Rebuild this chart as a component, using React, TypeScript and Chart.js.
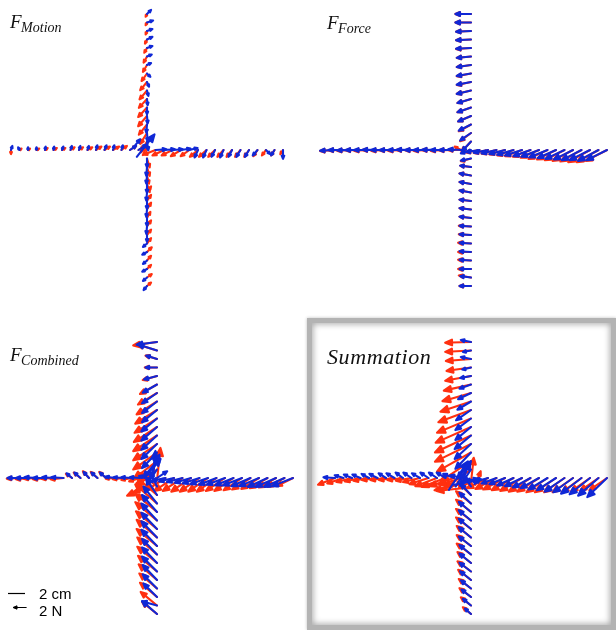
import React, { useEffect, useRef } from "react";
import { Chart, registerables } from "chart.js";
Chart.register(...registerables);

type V = [number, number];
type C = [number, number, number, number];

// distance of each sample along an arm, cm
const ARM_DIST_CM = [1, 2, 3, 4, 5, 6, 7, 8, 9, 10, 11, 12, 13, 14, 15, 16];

// ---------- F_Motion (vectors in N, ordered from centre outwards) ----------
const MOTION_TOP_RED: V[] = [[-0.9,-1.6],[-1.0,-1.6],[-1.2,-1.5],[-1.3,-1.5],[-1.3,-1.4],[-1.2,-1.3],[-1.1,-1.3],[-1.0,-1.2],[-0.8,-1.1],[-0.6,-1.0],[-0.5,-0.9],[-0.4,-0.7],[-0.3,-0.6],[-0.2,-0.5],[-0.2,-0.4],[-0.2,-0.4]];
const MOTION_TOP_BLUE: V[] = [[0.2,-1.3],[0.1,-1.2],[-0.1,-1.2],[0.1,-1.1],[0.0,-1.0],[0.1,-0.9],[0.2,-0.8],[0.3,-0.7],[0.5,-0.5],[0.6,0.3],[0.7,0.3],[0.8,0.3],[0.8,0.4],[0.8,0.3],[0.9,0.3],[0.6,0.6]];
const MOTION_LEFT_RED: V[] = [[0.9,0.6],[0.9,0.6],[0.8,0.6],[0.9,0.5],[0.8,0.5],[0.8,0.5],[0.7,0.4],[0.6,0.4],[0.6,0.4],[0.5,0.3],[0.5,0.3],[0.4,0.3],[0.4,0.2],[0.3,0.2],[0.3,0.2],[0.0,-0.6]];
const MOTION_LEFT_BLUE: V[] = [[1.2,0.8],[0.9,0.6],[0.2,0.7],[0.2,0.7],[0.3,0.7],[0.2,0.7],[0.2,0.6],[0.2,0.6],[0.2,0.6],[0.2,0.5],[0.1,0.5],[0.1,0.5],[0.0,0.4],[0.0,0.4],[-0.2,0.4],[0.2,0.6]];
const MOTION_RIGHT_RED: V[] = [[-1.8,-0.7],[-1.7,-0.8],[-1.6,-0.8],[-1.5,-0.9],[-1.3,-0.9],[-1.2,-1.0],[-1.1,-1.0],[-1.0,-1.0],[-0.9,-1.0],[-0.8,-1.0],[-0.8,-1.0],[-0.7,-1.0],[-0.6,-0.9],[-0.6,-0.8],[-0.5,-0.8],[-0.4,-0.6]];
const MOTION_RIGHT_BLUE: V[] = [[1.6,0.1],[1.6,0.1],[1.5,0.1],[1.4,0.2],[1.2,0.3],[-0.5,-1.1],[-0.5,-1.1],[-0.5,-1.0],[-0.5,-1.1],[-0.5,-1.0],[-0.6,-1.0],[-0.6,-1.0],[-0.7,-0.8],[0.6,-0.6],[-0.5,-0.8],[0.0,-1.3]];
const MOTION_BOTTOM_RED: V[] = [[0.4,-1.3],[0.4,-1.3],[0.3,-1.2],[0.4,-1.2],[0.6,0.9],[0.6,0.9],[0.6,1.0],[0.5,0.9],[0.6,0.9],[0.6,0.8],[0.6,0.8],[0.7,0.7],[0.6,0.7],[0.6,0.6],[0.7,0.5],[0.6,0.5]];
const MOTION_BOTTOM_BLUE: V[] = [[0.0,-1.3],[-0.1,-1.3],[-0.1,-1.2],[0.0,-1.3],[-0.1,-1.2],[0.0,-1.2],[-0.1,-1.1],[0.0,-1.2],[-0.1,-1.1],[0.0,-1.0],[-0.6,-0.5],[-0.7,-0.4],[-0.6,-0.5],[-0.7,-0.4],[-0.6,-0.5],[-0.5,-0.6]];
const MOTION_CENTER_RED: C[] = [[-0.5,-0.6,0.6,1.3]];
const MOTION_CENTER_BLUE: C[] = [[-1.2,-0.8,2.6,3.3],[-1.6,0.3,1.0,1.2]];

// ---------- F_Force ----------
const FORCE_TOP_RED: V[] = [[-1.4,-1.5],[-1.6,-1.2],[-1.8,-1.0],[-1.9,-0.8],[-2.0,-0.7],[-2.0,-0.6],[-2.1,-0.5],[-2.1,-0.45],[-2.1,-0.4],[-2.1,-0.3],[-2.1,-0.2],[-2.2,-0.15],[-2.2,-0.1],[-2.2,-0.1],[-2.3,0.0],[-2.3,0.0]];
const FORCE_TOP_BLUE: V[] = [[-1.3,-1.4],[-1.6,-1.1],[-1.8,-0.9],[-1.9,-0.8],[-2.0,-0.7],[-2.0,-0.6],[-2.1,-0.5],[-2.1,-0.4],[-2.1,-0.35],[-2.1,-0.3],[-2.1,-0.2],[-2.2,-0.1],[-2.2,-0.1],[-2.2,-0.1],[-2.3,0.0],[-2.3,0.0]];
const FORCE_LEFT_RED: V[] = [[-2.1,0.0],[-2.2,-0.05],[-2.2,-0.1],[-2.2,0.0],[-2.2,-0.1],[-2.2,-0.05],[-2.2,0.0],[-2.2,-0.1],[-2.2,-0.05],[-2.2,-0.1],[-2.2,0.0],[-2.2,-0.1],[-2.2,-0.05],[-2.2,-0.1],[-2.2,-0.05],[-2.2,-0.15]];
const FORCE_LEFT_BLUE: V[] = [[-2.1,0.1],[-2.2,0.0],[-2.2,0.0],[-2.2,0.05],[-2.2,0.0],[-2.2,0.0],[-2.2,0.05],[-2.2,0.0],[-2.2,0.0],[-2.2,0.0],[-2.2,0.05],[-2.2,0.0],[-2.2,0.0],[-2.2,-0.05],[-2.2,0.0],[-2.2,-0.1]];
const FORCE_RIGHT_RED: V[] = [[-2.0,-0.35],[-2.1,-0.45],[-2.2,-0.55],[-2.3,-0.65],[-2.4,-0.8],[-2.5,-0.9],[-2.6,-1.0],[-2.7,-1.15],[-2.8,-1.3],[-2.8,-1.4],[-2.9,-1.5],[-3.0,-1.6],[-3.1,-1.7],[-3.2,-1.8],[-3.2,-1.8],[-3.1,-1.6]];
const FORCE_RIGHT_BLUE: V[] = [[-2.0,-0.3],[-2.1,-0.4],[-2.2,-0.5],[-2.3,-0.6],[-2.4,-0.7],[-2.5,-0.8],[-2.5,-0.9],[-2.6,-1.0],[-2.7,-1.1],[-2.7,-1.2],[-2.8,-1.3],[-2.8,-1.4],[-2.9,-1.5],[-3.0,-1.5],[-3.0,-1.6],[-3.0,-1.5]];
const FORCE_BOTTOM_RED: V[] = [[-1.5,-0.4],[-1.6,0.2],[-1.7,0.3],[-1.7,0.3],[-1.7,0.3],[-1.7,0.2],[-1.7,0.2],[-1.7,0.2],[-1.8,0.1],[-1.8,0.1],[-1.9,0.1],[-1.9,0.0],[-1.9,0.1],[-1.9,0.0],[-1.8,0.3],[-1.7,0.0]];
const FORCE_BOTTOM_BLUE: V[] = [[-1.5,-0.3],[-1.6,0.2],[-1.7,0.3],[-1.7,0.3],[-1.7,0.3],[-1.7,0.2],[-1.7,0.2],[-1.7,0.2],[-1.7,0.1],[-1.7,0.1],[-1.7,0.1],[-1.7,0.1],[-1.7,0.1],[-1.7,0.0],[-1.6,0.2],[-1.7,0.0]];
const FORCE_CENTER_RED: C[] = [[-1.2,0.0,-0.9,0.5]];
const FORCE_CENTER_BLUE: C[] = [[0,0,-1.5,-0.5]];

// ---------- F_Combined ----------
const COMBINED_TOP_RED: V[] = [[-3.0,-2.5],[-3.4,-2.6],[-3.5,-2.5],[-3.5,-2.4],[-3.5,-2.3],[-3.4,-2.2],[-3.3,-2.1],[-3.2,-2.0],[-3.0,-1.9],[-2.8,-1.7],[-2.5,-1.4],[-2.1,-0.6],[-1.8,0.0],[-1.7,0.5],[-2.9,0.9],[-3.5,-0.5]];
const COMBINED_TOP_BLUE: V[] = [[-1.5,-2.2],[-2.0,-2.4],[-2.2,-2.3],[-2.3,-2.2],[-2.3,-2.1],[-2.3,-2.0],[-2.3,-1.9],[-2.2,-1.8],[-2.2,-1.7],[-2.2,-1.5],[-2.1,-1.2],[-1.9,-0.5],[-1.7,0.0],[-1.6,0.5],[-2.8,0.9],[-3.0,-0.4]];
const COMBINED_LEFT_RED: V[] = [[-1.8,-0.8],[-1.6,-0.5],[-1.5,-0.3],[-1.5,-0.2],[-1.3,-0.1],[-1.0,0.9],[-1.0,0.9],[-0.9,1.0],[-1.0,0.8],[-0.9,0.6],[-1.9,-0.2],[-2.0,-0.1],[-2.0,-0.2],[-2.1,-0.1],[-2.0,-0.2],[-2.1,-0.1]];
const COMBINED_LEFT_BLUE: V[] = [[-1.4,0.3],[-1.5,0.1],[-1.5,0.1],[-1.4,0.1],[-1.3,0.2],[-0.9,0.8],[-0.9,0.8],[-0.8,0.9],[-0.9,0.8],[-0.8,0.7],[-1.8,0.1],[-1.9,0.1],[-2.0,0.0],[-2.0,0.1],[-2.0,0.0],[-2.0,0.0]];
const COMBINED_RIGHT_RED: V[] = [[-2.8,-1.8],[-2.9,-1.9],[-2.9,-1.9],[-2.9,-2.0],[-2.9,-2.0],[-2.9,-2.0],[-2.9,-2.0],[-2.8,-1.9],[-2.8,-1.9],[-2.7,-1.8],[-2.7,-1.7],[-2.6,-1.6],[-2.6,-1.5],[-2.5,-1.4],[-2.5,-1.3],[-2.4,-1.2]];
const COMBINED_RIGHT_BLUE: V[] = [[-2.0,-0.4],[-2.2,-0.5],[-2.3,-0.6],[-2.4,-0.7],[-2.5,-0.8],[-2.6,-0.9],[-2.6,-1.0],[-2.7,-1.0],[-2.7,-1.1],[-2.8,-1.1],[-2.8,-1.2],[-2.9,-1.2],[-2.9,-1.3],[-3.0,-1.3],[-3.0,-1.3],[-3.1,-1.2]];
const COMBINED_BOTTOM_RED: V[] = [[-2.5,2.0],[-3.0,2.6],[-3.2,2.8],[-3.2,2.7],[-3.2,2.7],[-3.1,2.6],[-3.0,2.6],[-3.0,2.5],[-2.9,2.5],[-2.9,2.4],[-2.8,2.3],[-2.7,2.3],[-2.6,2.2],[-2.5,2.1],[-2.4,2.0],[-2.2,1.8]];
const COMBINED_BOTTOM_BLUE: V[] = [[-1.0,2.0],[-1.6,2.4],[-2.0,2.5],[-2.2,2.5],[-2.3,2.5],[-2.3,2.4],[-2.3,2.4],[-2.3,2.4],[-2.2,2.3],[-2.2,2.3],[-2.2,2.2],[-2.1,2.2],[-2.1,2.1],[-2.0,2.0],[-2.2,0.6],[-2.2,1.9]];
const COMBINED_CENTER_RED: C[] = [[0,-0.3,0.5,4.8],[-0.8,-0.8,-3.4,-1.6],[-0.5,-1.0,-2.8,-0.8]];
const COMBINED_CENTER_BLUE: C[] = [[-0.5,-0.5,0.4,4.6],[-1.0,-0.3,1.6,3.8],[-1.5,0.0,2.4,2.8],[0,0,1.5,1.0]];

// ---------- Summation ----------
const SUM_TOP_RED: V[] = [[-4.0,-2.8],[-4.5,-3.0],[-5.0,-2.8],[-5.3,-2.6],[-5.3,-2.5],[-5.2,-2.3],[-5.0,-2.1],[-4.8,-1.8],[-4.5,-1.5],[-4.2,-1.2],[-4.0,-0.9],[-3.8,-0.7],[-3.6,-0.5],[-3.7,-0.3],[-3.8,-0.2],[-3.8,-0.1]];
const SUM_TOP_BLUE: V[] = [[-1.6,-2.4],[-2.0,-2.6],[-2.3,-2.4],[-2.4,-2.2],[-2.4,-2.0],[-2.3,-1.9],[-2.3,-1.7],[-2.2,-1.5],[-2.0,-1.2],[-1.9,-0.9],[-1.7,-0.6],[-1.6,-0.3],[-1.3,-0.3],[-1.5,0.3],[-1.2,-0.2],[-1.5,0.3]];
const SUM_LEFT_RED: V[] = [[-3.5,-1.0],[-3.6,-1.2],[-3.5,-1.3],[-3.2,-1.2],[-2.8,-0.9],[-2.5,-0.6],[-2.3,-0.4],[-2.3,-0.3],[-2.3,-0.3],[-2.3,-0.3],[-2.3,-0.3],[-2.3,-0.4],[-2.3,-0.5],[-2.3,-0.6],[-2.4,-0.8],[-2.5,-1.0]];
const SUM_LEFT_BLUE: V[] = [[-1.8,0.4],[-1.6,0.6],[-1.3,0.8],[-1.2,0.8],[-1.2,0.8],[-1.2,0.7],[-1.2,0.8],[-1.1,0.8],[-1.2,0.7],[-1.1,0.7],[-1.2,0.6],[-1.1,0.6],[-1.2,0.5],[-1.2,0.5],[-1.3,0.4],[-1.7,0.1]];
const SUM_RIGHT_RED: V[] = [[-3.0,-1.4],[-3.1,-1.5],[-3.1,-1.6],[-3.2,-1.7],[-3.2,-1.8],[-3.2,-1.9],[-3.2,-2.0],[-3.2,-2.0],[-3.1,-2.1],[-3.1,-2.1],[-3.0,-2.1],[-3.0,-2.1],[-2.9,-2.1],[-2.8,-2.0],[-2.7,-1.9],[-2.6,-1.8]];
const SUM_RIGHT_BLUE: V[] = [[-2.0,-0.5],[-2.1,-0.6],[-2.2,-0.8],[-2.3,-0.9],[-2.4,-1.1],[-2.5,-1.2],[-2.6,-1.4],[-2.7,-1.5],[-2.8,-1.7],[-2.8,-1.8],[-2.9,-2.0],[-2.9,-2.1],[-3.0,-2.3],[-3.0,-2.4],[-3.0,-2.6],[-2.9,-2.8]];
const SUM_BOTTOM_RED: V[] = [[-1.5,1.8],[-2.0,1.9],[-2.2,1.8],[-2.2,1.8],[-2.2,1.7],[-2.2,1.7],[-2.1,1.7],[-2.1,1.6],[-2.1,1.6],[-2.0,1.6],[-2.0,1.5],[-1.9,1.5],[-1.8,1.4],[-1.7,1.3],[-1.5,1.2],[-1.2,1.0]];
const SUM_BOTTOM_BLUE: V[] = [[-1.0,1.5],[-1.5,1.6],[-1.7,1.6],[-1.8,1.5],[-1.8,1.5],[-1.8,1.5],[-1.8,1.5],[-1.8,1.4],[-1.7,1.4],[-1.7,1.4],[-1.7,1.3],[-1.6,1.3],[-1.5,1.2],[-1.4,1.1],[-1.2,1.0],[-0.9,0.8]];
const SUM_CENTER_RED: C[] = [[0,-0.5,0.4,3.6],[-1.5,-0.8,-3.5,-0.8],[-1.0,-1.2,-3.8,-0.4],[0.5,-0.8,0.8,2.0]];
const SUM_CENTER_BLUE: C[] = [[-2.6,-1.4,2.8,4.2],[-1.8,-1.0,2.2,3.6],[-1.0,-0.5,1.0,3.0],[-2.0,-0.8,4.0,0.8]];

// ---------- styling / layout ----------
const PX_PER_CM = 8.5;
const N_TO_CM = 0.8;
const RED = "rgb(255,48,16)";
const BLUE = "rgb(16,40,214)";

type Pt = { x: number; y: number; u: number; v: number };

function armPoints(top: V[], bottom: V[], left: V[], right: V[], center: C[]): Pt[] {
  const pts: Pt[] = [];
  center.forEach(([x, y, u, v]) => pts.push({ x, y, u, v }));
  ARM_DIST_CM.forEach((d, i) => {
    pts.push({ x: 0, y: d, u: top[i][0], v: top[i][1] });
    pts.push({ x: 0, y: -d, u: bottom[i][0], v: bottom[i][1] });
    pts.push({ x: -d, y: 0, u: left[i][0], v: left[i][1] });
    pts.push({ x: d, y: 0, u: right[i][0], v: right[i][1] });
  });
  return pts;
}

function drawArrow(ctx: CanvasRenderingContext2D, x0: number, y0: number, x1: number, y1: number, fixedHead = 0) {
  const dx = x1 - x0, dy = y1 - y0;
  const L = Math.hypot(dx, dy);
  if (L < 0.5) return;
  const ux = dx / L, uy = dy / L;
  const h = fixedHead > 0 ? fixedHead : Math.min(8, 0.22 * L + 1.2);
  const w = 0.42 * h;
  const bx = x1 - ux * h, by = y1 - uy * h;
  ctx.beginPath();
  ctx.moveTo(x0, y0);
  ctx.lineTo(bx + ux * 0.5, by + uy * 0.5);
  ctx.stroke();
  ctx.beginPath();
  ctx.moveTo(x1, y1);
  ctx.lineTo(bx - uy * w, by + ux * w);
  ctx.lineTo(bx + uy * w, by - ux * w);
  ctx.closePath();
  ctx.fill();
  ctx.stroke();
}

type PanelCfg = {
  left: number; top: number; width: number; height: number; // canvas rect on page
  cx: number; cy: number; // page pixel of origin
  red: Pt[]; blue: Pt[];
  label: { main: string; sub?: string; x: number; y: number; mainSize: number; spacing?: string };
  legend?: boolean;
};

function Panel({ cfg }: { cfg: PanelCfg }) {
  const ref = useRef<HTMLCanvasElement | null>(null);
  useEffect(() => {
    if (!ref.current) return;
    const quiver = {
      id: "quiver",
      afterDatasetsDraw(chart: any) {
        const ctx: CanvasRenderingContext2D = chart.ctx;
        const xs = chart.scales.x, ys = chart.scales.y;
        ctx.save();
        ctx.lineCap = "round";
        ctx.lineJoin = "round";
        chart.data.datasets.forEach((ds: any) => {
          ctx.strokeStyle = ds.borderColor;
          ctx.fillStyle = ds.borderColor;
          ctx.lineWidth = 2.1;
          ds.data.forEach((p: Pt) => {
            drawArrow(
              ctx,
              xs.getPixelForValue(p.x), ys.getPixelForValue(p.y),
              xs.getPixelForValue(p.x + p.u * N_TO_CM), ys.getPixelForValue(p.y + p.v * N_TO_CM)
            );
          });
        });
        // label
        const L = cfg.label;
        ctx.fillStyle = "#111";
        ctx.textBaseline = "alphabetic";
        ctx.font = `italic ${L.mainSize}px "Liberation Serif", "Times New Roman", serif`;
        (ctx as any).letterSpacing = L.spacing || "0px";
        ctx.fillText(L.main, L.x, L.y);
        const w = ctx.measureText(L.main).width;
        (ctx as any).letterSpacing = "0px";
        if (L.sub) {
          ctx.font = `italic 14px "Liberation Serif", "Times New Roman", serif`;
          ctx.fillText(L.sub, L.x + w - 0.5, L.y + 3.5);
        }
        if (cfg.legend) {
          const cm2 = xs.getPixelForValue(2) - xs.getPixelForValue(0);
          const n2 = xs.getPixelForValue(2 * N_TO_CM) - xs.getPixelForValue(0);
          ctx.strokeStyle = "#000";
          ctx.fillStyle = "#000";
          ctx.lineWidth = 1.2;
          ctx.lineCap = "butt";
          ctx.beginPath();
          ctx.moveTo(8, 277.5);
          ctx.lineTo(8 + cm2, 277.5);
          ctx.stroke();
          ctx.lineWidth = 1;
          drawArrow(ctx, 13 + n2, 291.5, 13, 291.5, 4);
          ctx.font = `15px "Liberation Sans", Arial, sans-serif`;
          ctx.fillText("2 cm", 39, 283);
          ctx.fillText("2 N", 39, 300);
        }
        ctx.restore();
      },
    };
    const xMin = (cfg.left - cfg.cx) / PX_PER_CM;
    const xMax = (cfg.left + cfg.width - cfg.cx) / PX_PER_CM;
    const yMax = (cfg.cy - cfg.top) / PX_PER_CM;
    const yMin = (cfg.cy - cfg.top - cfg.height) / PX_PER_CM;
    const chart = new Chart(ref.current, {
      type: "scatter",
      data: {
        datasets: [
          { label: "red", data: cfg.red as any, borderColor: RED, backgroundColor: RED, pointRadius: 0 },
          { label: "blue", data: cfg.blue as any, borderColor: BLUE, backgroundColor: BLUE, pointRadius: 0 },
        ],
      },
      options: {
        animation: false,
        responsive: false,
        maintainAspectRatio: false,
        events: [],
        layout: { padding: 0 },
        plugins: { legend: { display: false }, tooltip: { enabled: false }, title: { display: false } },
        scales: {
          x: { type: "linear", display: false, min: xMin, max: xMax },
          y: { type: "linear", display: false, min: yMin, max: yMax },
        },
      },
      plugins: [quiver],
    });
    return () => chart.destroy();
  }, [cfg]);
  return (
    <canvas
      ref={ref}
      width={cfg.width}
      height={cfg.height}
      style={{ position: "absolute", left: cfg.left, top: cfg.top, width: cfg.width, height: cfg.height }}
    />
  );
}

const PANELS: PanelCfg[] = [
  {
    left: 0, top: 0, width: 308, height: 316, cx: 147, cy: 150,
    red: armPoints(MOTION_TOP_RED, MOTION_BOTTOM_RED, MOTION_LEFT_RED, MOTION_RIGHT_RED, MOTION_CENTER_RED),
    blue: armPoints(MOTION_TOP_BLUE, MOTION_BOTTOM_BLUE, MOTION_LEFT_BLUE, MOTION_RIGHT_BLUE, MOTION_CENTER_BLUE),
    label: { main: "F", sub: "Motion", x: 10, y: 28, mainSize: 19 },
  },
  {
    left: 308, top: 0, width: 308, height: 316, cx: 471, cy: 150,
    red: armPoints(FORCE_TOP_RED, FORCE_BOTTOM_RED, FORCE_LEFT_RED, FORCE_RIGHT_RED, FORCE_CENTER_RED),
    blue: armPoints(FORCE_TOP_BLUE, FORCE_BOTTOM_BLUE, FORCE_LEFT_BLUE, FORCE_RIGHT_BLUE, FORCE_CENTER_BLUE),
    label: { main: "F", sub: "Force", x: 19, y: 29, mainSize: 19 },
  },
  {
    left: 0, top: 316, width: 306, height: 314, cx: 157, cy: 478,
    red: armPoints(COMBINED_TOP_RED, COMBINED_BOTTOM_RED, COMBINED_LEFT_RED, COMBINED_RIGHT_RED, COMBINED_CENTER_RED),
    blue: armPoints(COMBINED_TOP_BLUE, COMBINED_BOTTOM_BLUE, COMBINED_LEFT_BLUE, COMBINED_RIGHT_BLUE, COMBINED_CENTER_BLUE),
    label: { main: "F", sub: "Combined", x: 10, y: 45, mainSize: 19 },
    legend: true,
  },
  {
    left: 312, top: 323, width: 299, height: 302, cx: 471, cy: 478,
    red: armPoints(SUM_TOP_RED, SUM_BOTTOM_RED, SUM_LEFT_RED, SUM_RIGHT_RED, SUM_CENTER_RED),
    blue: armPoints(SUM_TOP_BLUE, SUM_BOTTOM_BLUE, SUM_LEFT_BLUE, SUM_RIGHT_BLUE, SUM_CENTER_BLUE),
    label: { main: "Summation", x: 15, y: 41, mainSize: 22, spacing: "0.6px" },
  },
];

export default function App() {
  return (
    <div style={{ position: "absolute", left: 0, top: 0, width: 616, height: 630, overflow: "hidden", background: "#fff" }}>
      <div
        style={{
          position: "absolute", left: 307, top: 318, width: 299, height: 302,
          border: "5px solid #b3b3b3",
          boxShadow: "inset 0 0 6px 1px rgba(0,0,0,0.35), 0 0 3px rgba(0,0,0,0.25)",
          background: "#fff",
        }}
      />
      {PANELS.map((p, i) => (
        <Panel key={i} cfg={p} />
      ))}
    </div>
  );
}
